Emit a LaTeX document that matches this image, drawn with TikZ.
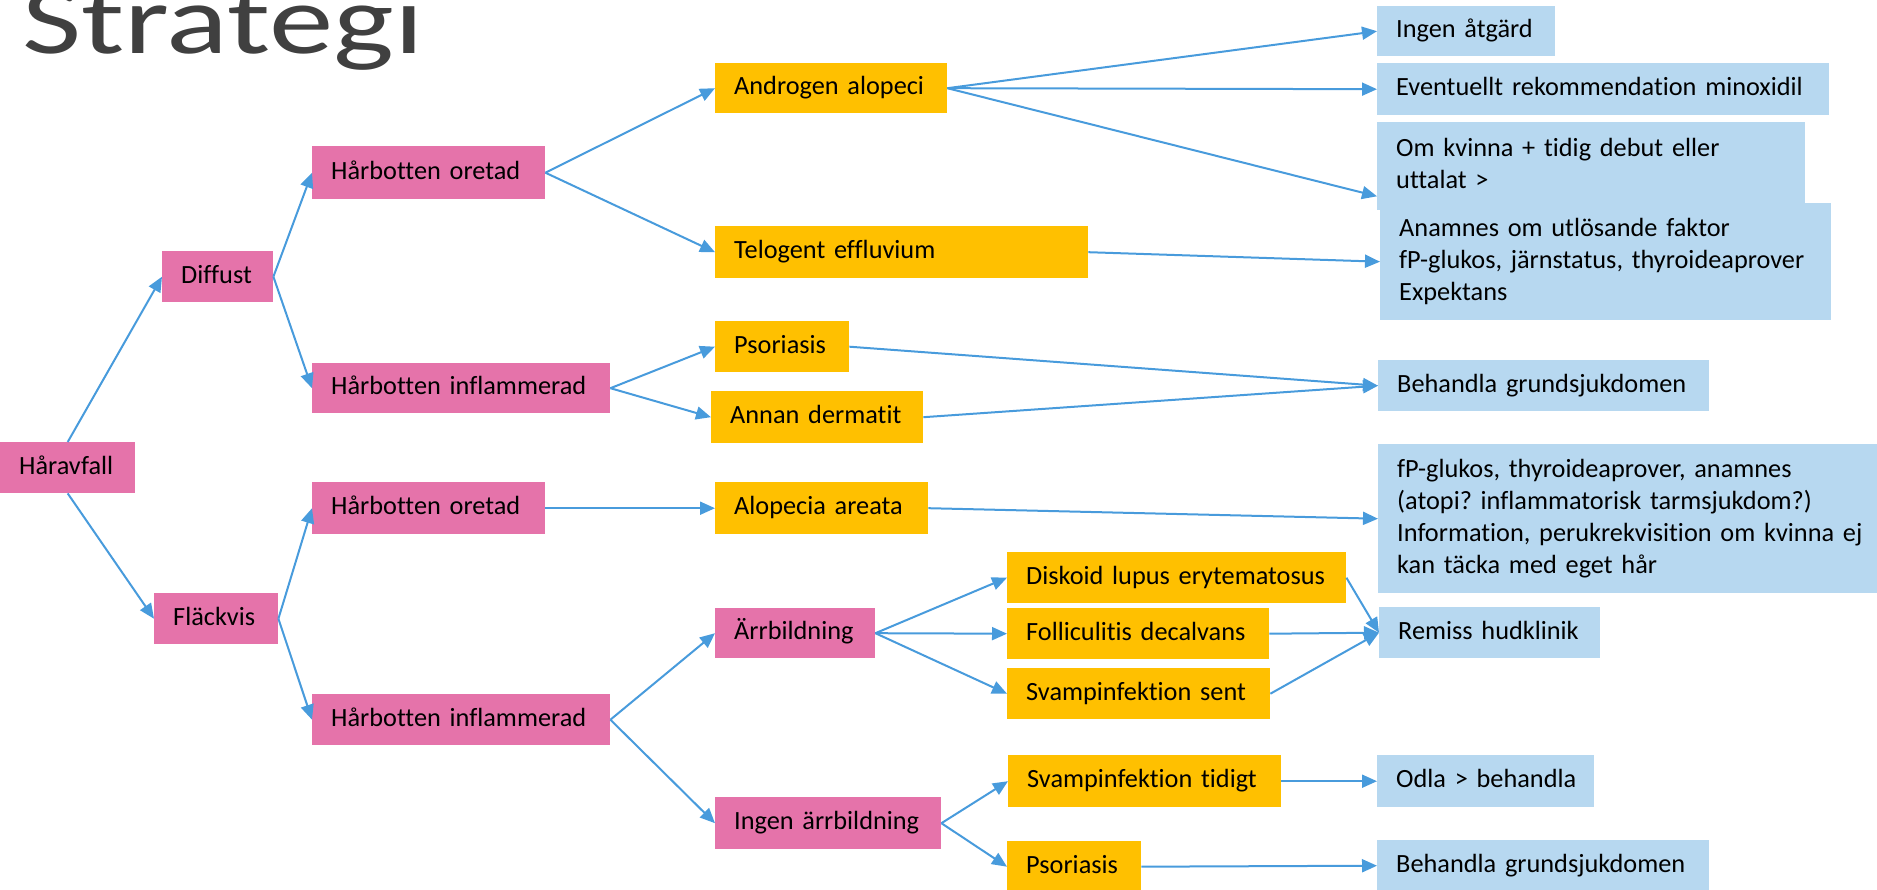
\documentclass[tikz,border=0pt]{standalone}
\usepackage{fontspec}
\setmainfont{Carlito}[Ligatures={NoCommon}]
\usepackage{tikz}
\usetikzlibrary{arrows.meta}
\definecolor{rosa}{RGB}{229,115,170}
\definecolor{gul}{RGB}{255,192,0}
\definecolor{ljusbla}{RGB}{183,216,240}
\definecolor{pilbla}{RGB}{72,155,220}
\definecolor{titelgra}{RGB}{64,64,64}
\frenchspacing

\begin{document}
\begin{tikzpicture}[x=1pt,y=-1pt]
	\tikzset{ruta/.style={anchor=north west, inner xsep=19pt, inner ysep=0pt, align=left, minimum height=#1, font=\fontsize{26.3}{32}\selectfont, execute at begin node=\strut, execute at end node=\strut}, ruta/.default=51pt};
	\tikzset{rosaruta/.style={ruta=#1, fill=rosa}, rosaruta/.default=51pt};
	\tikzset{gulruta/.style={ruta=#1, fill=gul}, gulruta/.default=51pt};
	\tikzset{blaruta/.style={ruta=#1, fill=ljusbla}, blaruta/.default=51pt};
	\tikzset{pil/.style={draw=pilbla, line width=2pt, -{Triangle[length=15pt,width=13pt]}}};
	\useasboundingbox (0,0) rectangle (1877,890);
	\node[anchor=base west, inner sep=0pt, text=titelgra, font=\fontsize{98}{98}\selectfont, xscale=1.315, transform shape] (titel) at (22,54) {Strategi};
	\node[rosaruta, text width=97pt] (haravfall) at (0,442) {Håravfall};
	\node[rosaruta, text width=73pt] (diffust) at (162,251) {Diffust};
	\node[rosaruta, text width=86pt] (flackvis) at (154,593) {Fläckvis};
	\node[rosaruta=53pt, text width=195pt] (oretadA) at (312,146) {Hårbotten oretad};
	\node[rosaruta=50pt, text width=260pt] (inflamA) at (312,363) {Hårbotten inflammerad};
	\node[rosaruta=52pt, text width=195pt] (oretadB) at (312,482) {Hårbotten oretad};
	\node[rosaruta, text width=260pt] (inflamB) at (312,694) {Hårbotten inflammerad};
	\node[rosaruta=50pt, text width=122pt] (arr) at (715,608) {Ärrbildning};
	\node[rosaruta=52pt, text width=188pt] (ingenarr) at (715,797) {Ingen ärrbildning};
	\node[gulruta=50pt, text width=194pt] (androgen) at (715,63) {Androgen alopeci};
	\node[gulruta=52pt, text width=335pt] (telogen) at (715,226) {Telogent effluvium};
	\node[gulruta, text width=96pt] (psoriasisA) at (715,321) {Psoriasis};
	\node[gulruta=52pt, text width=174pt] (annan) at (711,391) {Annan dermatit};
	\node[gulruta=52pt, text width=175pt] (alopecia) at (715,482) {Alopecia areata};
	\node[gulruta, text width=301pt] (diskoid) at (1007,552) {Diskoid lupus erytematosus};
	\node[gulruta, text width=224pt] (follikulit) at (1007,608) {Folliculitis decalvans};
	\node[gulruta, text width=225pt] (svampsent) at (1007,668) {Svampinfektion sent};
	\node[gulruta=52pt, text width=235pt] (svamptidig) at (1008,755) {Svampinfektion tidigt};
	\node[gulruta, text width=96pt] (psoriasisB) at (1007,841) {Psoriasis};
	\node[blaruta=50pt, text width=140pt] (ingen) at (1377,6) {Ingen åtgärd};
	\node[blaruta=52pt, text width=414pt] (eventuellt) at (1377,63) {Eventuellt rekommendation minoxidil};
	\node[blaruta=88pt, text width=390pt] (omkvinna) at (1377,122) {Om kvinna + tidig debut eller\\uttalat >};
	\node[blaruta=117pt, text width=413pt] (anamnes) at (1380,203) {Anamnes om utlösande faktor\\fP-glukos, järnstatus, thyroideaprover\\Expektans};
	\node[blaruta, text width=293pt] (behandlaA) at (1378,360) {Behandla grundsjukdomen};
	\node[blaruta=149pt, text width=482pt] (fp) at (1378,444) {fP-glukos, thyroideaprover, anamnes\\(atopi? inflammatorisk tarmsjukdom?)\\Information, perukrekvisition om kvinna ej\\kan täcka med eget hår};
	\node[blaruta, text width=183pt] (remiss) at (1379,607) {Remiss hudklinik};
	\node[blaruta=52pt, text width=179pt] (odla) at (1377,755) {Odla~>~behandla};
	\node[blaruta, text width=294pt] (behandlaB) at (1377,840) {Behandla grundsjukdomen};
	\draw[pil] (haravfall.north) -- (diffust.west);
	\draw[pil] (haravfall.south) -- (flackvis.west);
	\draw[pil] (diffust.east) -- (oretadA.west);
	\draw[pil] (diffust.east) -- (inflamA.west);
	\draw[pil] (flackvis.east) -- (oretadB.west);
	\draw[pil] (flackvis.east) -- (inflamB.west);
	\draw[pil] (oretadA.east) -- (androgen.west);
	\draw[pil] (oretadA.east) -- (telogen.west);
	\draw[pil] (inflamA.east) -- (psoriasisA.west);
	\draw[pil] (inflamA.east) -- (annan.west);
	\draw[pil] (oretadB.east) -- (alopecia.west);
	\draw[pil] (inflamB.east) -- (arr.west);
	\draw[pil] (inflamB.east) -- (ingenarr.west);
	\draw[pil] (arr.east) -- (diskoid.west);
	\draw[pil] (arr.east) -- (follikulit.west);
	\draw[pil] (arr.east) -- (svampsent.west);
	\draw[pil] (ingenarr.east) -- (svamptidig.west);
	\draw[pil] (ingenarr.east) -- (psoriasisB.west);
	\draw[pil] (androgen.east) -- (ingen.west);
	\draw[pil] (androgen.east) -- (eventuellt.west);
	\draw[pil] (androgen.east) -- (omkvinna.188);
	\draw[pil] (telogen.east) -- (anamnes.west);
	\draw[pil] (psoriasisA.east) -- (behandlaA.west);
	\draw[pil] (annan.east) -- (behandlaA.west);
	\draw[pil] (alopecia.east) -- (fp.west);
	\draw[pil] (diskoid.east) -- (remiss.west);
	\draw[pil] (follikulit.east) -- (remiss.west);
	\draw[pil] (svampsent.east) -- (remiss.west);
	\draw[pil] (svamptidig.east) -- (odla.west);
	\draw[pil] (psoriasisB.east) -- (behandlaB.west);
\end{tikzpicture}
\end{document}
